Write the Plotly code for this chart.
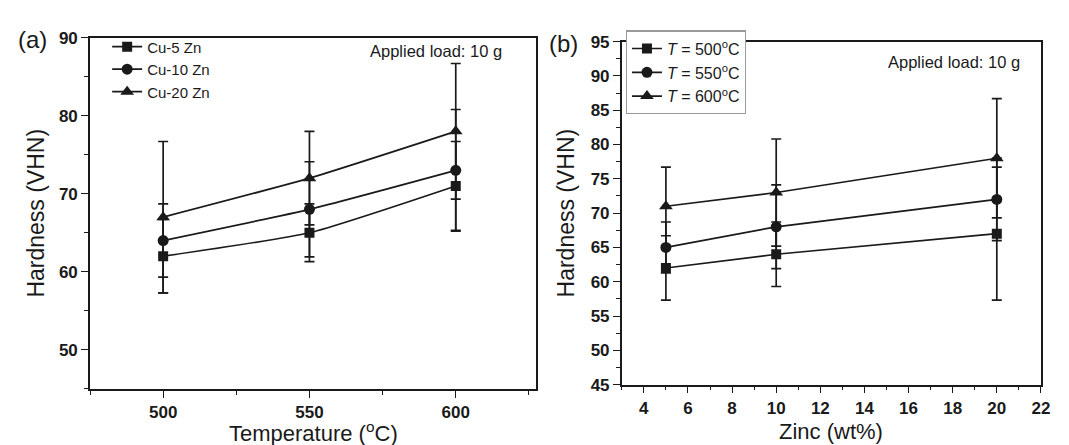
import plotly.graph_objects as go

# ---- data ----
temps = [500, 550, 600]
hv_cu5 = [62, 65, 71]
err_cu5 = [4.7, 3.7, 5.7]
hv_cu10 = [64, 68, 73]
err_cu10 = [4.7, 6.1, 7.8]
hv_cu20 = [67, 72, 78]
err_cu20 = [9.7, 6.0, 8.7]

zinc = [5, 10, 20]
hv_t500 = [62, 64, 67]
err_t500 = [4.7, 4.7, 9.7]
hv_t550 = [65, 68, 72]
err_t550 = [3.7, 6.1, 6.0]
hv_t600 = [71, 73, 78]
err_t600 = [5.7, 7.8, 8.7]

names_a = ["Cu-5 Zn", "Cu-10 Zn", "Cu-20 Zn"]
names_b = ["<i>T</i> = 500<sup>o</sup>C", "<i>T</i> = 550<sup>o</sup>C", "<i>T</i> = 600<sup>o</sup>C"]
symbols = ["square", "circle", "triangle-up"]
msizes = [10, 11, 12]

# tick labels
xa_ticks = [500, 550, 600]
ya_ticks = [50, 60, 70, 80, 90]
xb_ticks = [4, 6, 8, 10, 12, 14, 16, 18, 20, 22]
yb_ticks = [45, 50, 55, 60, 65, 70, 75, 80, 85, 90, 95]

INK = "#1a1a1a"
FONT = "Liberation Sans, Arial, sans-serif"
W, H = 1069, 445

fig = go.Figure()

for name, y, e, sym, ms in zip(names_a, [hv_cu5, hv_cu10, hv_cu20],
                               [err_cu5, err_cu10, err_cu20], symbols, msizes):
    fig.add_trace(go.Scatter(
        x=temps, y=y, name=name, mode="lines+markers",
        line=dict(color=INK, width=1.7, shape="spline", smoothing=0.5),
        marker=dict(symbol=sym, size=ms, color=INK),
        error_y=dict(type="data", array=e, visible=True, color=INK, thickness=1.7, width=5),
        xaxis="x", yaxis="y", legend="legend",
    ))

for name, y, e, sym, ms in zip(names_b, [hv_t500, hv_t550, hv_t600],
                               [err_t500, err_t550, err_t600], symbols, msizes):
    fig.add_trace(go.Scatter(
        x=zinc, y=y, name=name, mode="lines+markers",
        line=dict(color=INK, width=1.7),
        marker=dict(symbol=sym, size=ms, color=INK),
        error_y=dict(type="data", array=e, visible=True, color=INK, thickness=1.7, width=5),
        xaxis="x2", yaxis="y2", legend="legend2",
    ))

tickfont = dict(family=FONT, size=17, color=INK)
titlefont = dict(family=FONT, size=23, color=INK)
xtitlefont = dict(family=FONT, size=22, color=INK)


def bold(vals):
    return ["<b>%s</b>" % v for v in vals]


def axis_common():
    return dict(showline=True, linecolor=INK, linewidth=1.6, mirror=True,
                ticks="outside", ticklen=7, tickwidth=1.4, tickcolor=INK,
                showgrid=False, zeroline=False, tickfont=tickfont, tickmode="array")

fig.update_layout(
    width=W, height=H,
    margin=dict(l=0, r=0, t=0, b=0),
    paper_bgcolor="white", plot_bgcolor="white",
    font=dict(family=FONT, color=INK),
    xaxis=dict(**axis_common(), domain=[82.7 / W, 532.7 / W], range=[475, 627.5],
               tickvals=xa_ticks, ticktext=bold(xa_ticks),
               minor=dict(tickmode="linear", tick0=475, dtick=25, ticks="outside", ticklen=4, tickcolor=INK),
               anchor="y"),
    yaxis=dict(**axis_common(), domain=[1 - 388.3 / H, 1 - 21.7 / H], range=[45, 90],
               tickvals=ya_ticks, ticktext=bold(ya_ticks),
               minor=dict(tickmode="linear", tick0=45, dtick=5, ticks="outside", ticklen=4, tickcolor=INK),
               title=dict(text="Hardness (VHN)", font=titlefont, standoff=8),
               anchor="x"),
    xaxis2=dict(**axis_common(), domain=[619 / W, 1041.7 / W], range=[3, 22],
                tickvals=xb_ticks, ticktext=bold(xb_ticks),
                minor=dict(tickmode="linear", tick0=3, dtick=1, ticks="outside", ticklen=4, tickcolor=INK),
                anchor="y2"),
    yaxis2=dict(**axis_common(), domain=[1 - 384 / H, 1 - 25.7 / H], range=[45, 95],
                tickvals=yb_ticks, ticktext=bold(yb_ticks),
                minor=dict(tickmode="linear", tick0=45, dtick=2.5, ticks="outside", ticklen=4, tickcolor=INK),
                title=dict(text="Hardness (VHN)", font=titlefont, standoff=10),
                anchor="x2"),
    legend=dict(x=100 / W, y=1 - 14 / H, xanchor="left", yanchor="top",
                bgcolor="rgba(0,0,0,0)", borderwidth=0,
                font=dict(family=FONT, size=15, color=INK), tracegroupgap=0),
    legend2=dict(x=623 / W, y=1 - 14 / H, xanchor="left", yanchor="top",
                 bgcolor="white", bordercolor="#9a9a9a", borderwidth=1.2,
                 font=dict(family=FONT, size=16, color=INK), tracegroupgap=0),
    showlegend=True,
    annotations=[
        dict(text="Temperature (<sup>o</sup>C)", x=(82.7 + 532.7) / 2 / W, y=1 - 433.5 / H,
             xref="paper", yref="paper", xanchor="center", yanchor="middle",
             showarrow=False, font=xtitlefont),
        dict(text="Zinc (wt%)", x=(619 + 1041.7) / 2 / W, y=1 - 433.5 / H,
             xref="paper", yref="paper", xanchor="center", yanchor="middle",
             showarrow=False, font=xtitlefont),
        dict(text="(a)", x=25 / W, y=1 - 23 / H, xref="paper", yref="paper",
             xanchor="center", yanchor="middle",
             showarrow=False, font=dict(family=FONT, size=24, color=INK)),
        dict(text="(b)", x=560 / W, y=1 - 28 / H, xref="paper", yref="paper",
             xanchor="center", yanchor="middle",
             showarrow=False, font=dict(family=FONT, size=24, color=INK)),
        dict(text="Applied load: 10 g", x=500 / W, y=1 - 36 / H, xref="paper", yref="paper",
             xanchor="right", yanchor="middle",
             showarrow=False, font=dict(family=FONT, size=16.5, color=INK)),
        dict(text="Applied load: 10 g", x=1023 / W, y=1 - 47 / H, xref="paper", yref="paper",
             xanchor="right", yanchor="middle",
             showarrow=False, font=dict(family=FONT, size=16.5, color=INK)),
    ],
)

fig.write_html("out.html")
